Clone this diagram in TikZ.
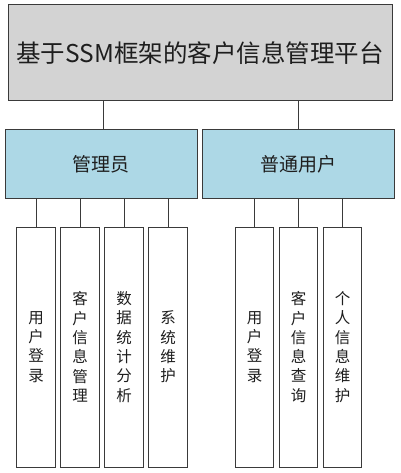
\documentclass[tikz,border=0pt]{standalone}
\usepackage{fontspec}
\setmainfont{Noto Sans CJK SC}
\newfontfamily\cjk{Noto Sans CJK SC}
\definecolor{topgray}{HTML}{D3D3D3}
\definecolor{midblue}{HTML}{ADD8E6}
\definecolor{edgecol}{HTML}{3A3A3A}
\definecolor{txtcol}{HTML}{1E1E1E}
\tikzset{
  boxbase/.style={draw=edgecol, line width=1pt, inner sep=0pt, text=txtcol},
  topbox/.style={boxbase, fill=topgray, minimum width=384pt, minimum height=96pt,
    font=\cjk\fontsize{24.5}{29}\selectfont},
  midbox/.style={boxbase, fill=midblue, minimum width=192pt, minimum height=68pt,
    font=\cjk\fontsize{19}{23}\selectfont},
  leafbox/.style={boxbase, fill=white, minimum width=38.5pt, minimum height=240pt,
    align=center, font=\cjk\fontsize{15.5}{19.3}\selectfont},
  link/.style={draw=edgecol, line width=1pt}
}
\begin{document}
\begin{tikzpicture}[x=1pt, y=-1pt]
\useasboundingbox (0,0) rectangle (400,473);
\node[topbox] (top) at (200,53) {基于SSM框架的客户信息管理平台};
\node[midbox] (admin) at (101,164) {管理员};
\node[midbox] (user) at (298,164) {普通用户};
\node[leafbox] (a1) at (36,347) {用\\户\\登\\录};
\node[leafbox] (a2) at (80,347) {客\\户\\信\\息\\管\\理};
\node[leafbox] (a3) at (124,347) {数\\据\\统\\计\\分\\析};
\node[leafbox] (a4) at (168,347) {系\\统\\维\\护};
\node[leafbox] (u1) at (254.5,347) {用\\户\\登\\录};
\node[leafbox] (u2) at (298.5,347) {客\\户\\信\\息\\查\\询};
\node[leafbox] (u3) at (342.5,347) {个\\人\\信\\息\\维\\护};
\draw[link] ([xshift=2pt]admin.north) -- ([xshift=2pt]admin.north |- top.south);
\draw[link] (user.north) -- (user.north |- top.south);
\foreach \n in {a1,a2,a3,a4}
  \draw[link] (\n.north) -- (\n.north |- admin.south);
\foreach \n in {u1,u2,u3}
  \draw[link] (\n.north) -- (\n.north |- user.south);
\end{tikzpicture}
\end{document}
